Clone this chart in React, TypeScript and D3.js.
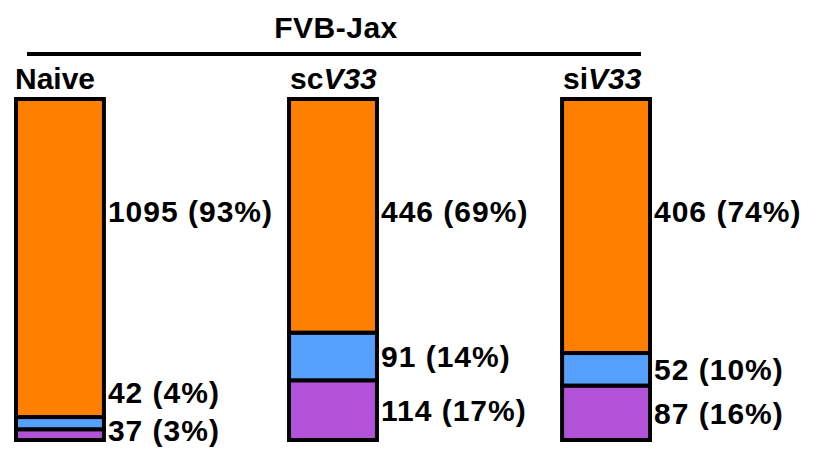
import React, { useEffect, useRef } from 'react';
import * as d3 from 'd3';

const groups = ['Naive', 'scV33', 'siV33'];
const groupPrefix = ['Naive', 'sc', 'si'];
const groupItalic = ['', 'V33', 'V33'];
const categories = ['purple', 'blue', 'orange'];
const purpleCounts = [37, 114, 87];
const blueCounts = [42, 91, 52];
const orangeCounts = [1095, 446, 406];
const purplePct = [3, 17, 16];
const bluePct = [4, 14, 10];
const orangePct = [93, 69, 74];
const title = 'FVB-Jax';

const colors: Record<string, string> = { orange: '#FF8000', blue: '#55A0FA', purple: '#B252D8' };

export default function App() {
  const ref = useRef<SVGSVGElement>(null);

  useEffect(() => {
    const width = 817;
    const height = 451;
    const barTop = 99;
    const barBottom = 440;
    const font = 'Liberation Sans, Arial, sans-serif';

    const svg = d3.select(ref.current).attr('width', width).attr('height', height);
    svg.selectAll('*').remove();

    const rows = groups.map((g, i) => ({
      group: g,
      purple: purpleCounts[i],
      blue: blueCounts[i],
      orange: orangeCounts[i],
    }));
    const pcts: Record<string, number[]> = { purple: purplePct, blue: bluePct, orange: orangePct };
    const stacked = d3.stack<any>().keys(categories)(rows);

    const xScale = d3.scaleBand().domain(groups).range([16, 650]).paddingInner(0.678).paddingOuter(0);
    const bw = xScale.bandwidth();

    // title and bracket line
    svg.append('text')
      .attr('x', 336).attr('y', 38)
      .attr('text-anchor', 'middle')
      .style('font-family', font).style('font-weight', 'bold').style('font-size', '30px')
      .style('letter-spacing', '0.5px')
      .text(title);
    svg.append('line')
      .attr('x1', 27).attr('x2', 641).attr('y1', 54).attr('y2', 54)
      .attr('stroke', '#000').attr('stroke-width', 4);

    groups.forEach((g, i) => {
      const x0 = xScale(g)!;
      const total = purpleCounts[i] + blueCounts[i] + orangeCounts[i];
      const yScale = d3.scaleLinear().domain([0, total]).range([barBottom, barTop]);

      const lab = svg.append('text')
        .attr('x', x0 - 1 + (i > 0 ? 2 : 0)).attr('y', 89)
        .style('font-family', font).style('font-weight', 'bold').style('font-size', '30px');
      lab.append('tspan').text(groupPrefix[i]);
      if (groupItalic[i]) lab.append('tspan').style('font-style', 'italic').text(groupItalic[i]);

      stacked.forEach(layer => {
        const d = layer[i];
        svg.append('rect')
          .attr('x', x0).attr('width', bw)
          .attr('y', yScale(d[1])).attr('height', yScale(d[0]) - yScale(d[1]))
          .attr('fill', colors[layer.key])
          .attr('stroke', '#000').attr('stroke-width', 4);
      });

      // label positions
      const mid = (k: number) => (yScale(stacked[k][i][0]) + yScale(stacked[k][i][1])) / 2;
      const purpleY = Math.min(mid(0), barBottom - 10);
      const blueY = Math.min(mid(1), purpleY - 38);
      const orangeY = barTop + (barBottom - barTop) * 0.33;
      const ys: Record<string, number> = { purple: purpleY, blue: blueY, orange: orangeY };
      const counts: Record<string, number[]> = { purple: purpleCounts, blue: blueCounts, orange: orangeCounts };

      categories.forEach(c => {
        svg.append('text')
          .attr('x', x0 + bw + 4).attr('y', ys[c])
          .attr('dy', '0.36em')
          .style('font-family', font).style('font-weight', 'bold').style('font-size', '30px')
          .style('letter-spacing', '1px')
          .text(`${counts[c][i]} (${pcts[c][i]}%)`);
      });
    });
  }, []);

  return (
    <div style={{ position: 'absolute', left: 0, top: 0 }}>
      <svg ref={ref} style={{ display: 'block', background: '#fff' }}></svg>
    </div>
  );
}
